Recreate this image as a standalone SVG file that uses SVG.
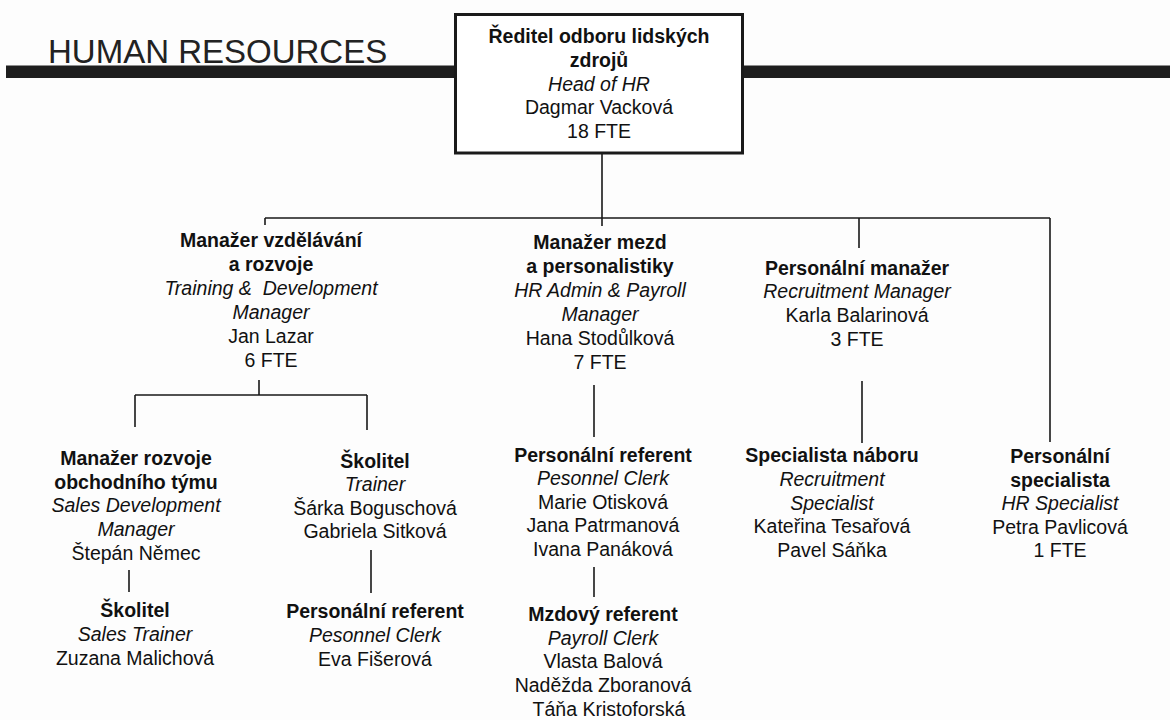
<svg xmlns="http://www.w3.org/2000/svg" width="1170" height="720" viewBox="0 0 1170 720">
<style>
text{font-family:"Liberation Sans",Arial,sans-serif;font-size:19.5px;fill:#111;text-anchor:middle}
.b{font-weight:bold}
.i{font-style:italic}
.title{font-size:33px;text-anchor:start;fill:#222}
.ln{stroke:#1a1a1a;stroke-width:1.6;fill:none}
</style>
<rect width="1170" height="720" fill="#fdfdfd"/>
<g id="banner">
<rect x="6" y="65.5" width="1164" height="12.5" fill="#1e1e1e"/>
<text class="title" x="48" y="63">HUMAN RESOURCES</text>
</g>
<g id="connectors">
<path class="ln" d="M602 154V226M265 218H1050M265 218V225M859 218V248M1050 218V442"/>
<path class="ln" d="M259 380V395M135 395H367M135 395V427M367 395V430"/>
<path class="ln" d="M129 570V592M371 550V593M594 385V437M594 567V597M862 381V443"/>
</g>
<g id="head">
<rect x="455.5" y="14.5" width="287" height="138.5" fill="#fff" stroke="#1a1a1a" stroke-width="3"/>
<text class="b" x="599" y="43">Ředitel odboru lidských</text>
<text class="b" x="599" y="67">zdrojů</text>
<text class="i" x="599" y="91">Head of HR</text>
<text x="599" y="114">Dagmar Vacková</text>
<text x="599" y="138">18 FTE</text>
</g>
<g id="training-manager">
<text class="b" x="271" y="247">Manažer vzdělávání</text>
<text class="b" x="271" y="271">a rozvoje</text>
<text class="i" x="271" y="295" xml:space="preserve">Training &amp;  Development</text>
<text class="i" x="271" y="319">Manager</text>
<text x="271" y="343">Jan Lazar</text>
<text x="271" y="367">6 FTE</text>
</g>
<g id="payroll-manager">
<text class="b" x="600" y="249">Manažer mezd</text>
<text class="b" x="600" y="273">a personalistiky</text>
<text class="i" x="600" y="297">HR Admin &amp; Payroll</text>
<text class="i" x="600" y="321">Manager</text>
<text x="600" y="345">Hana Stodůlková</text>
<text x="600" y="369">7 FTE</text>
</g>
<g id="recruitment-manager">
<text class="b" x="857" y="275">Personální manažer</text>
<text class="i" x="857" y="298">Recruitment Manager</text>
<text x="857" y="322">Karla Balarinová</text>
<text x="857" y="346">3 FTE</text>
</g>
<g id="hr-specialist">
<text class="b" x="1060" y="463">Personální</text>
<text class="b" x="1060" y="487">specialista</text>
<text class="i" x="1060" y="510">HR Specialist</text>
<text x="1060" y="534">Petra Pavlicová</text>
<text x="1060" y="557">1 FTE</text>
</g>
<g id="sales-dev-manager">
<text class="b" x="136" y="465">Manažer rozvoje</text>
<text class="b" x="136" y="489">obchodního týmu</text>
<text class="i" x="136" y="512">Sales Development</text>
<text class="i" x="136" y="536">Manager</text>
<text x="136" y="560">Štepán Němec</text>
</g>
<g id="sales-trainer">
<text class="b" x="135" y="617">Školitel</text>
<text class="i" x="135" y="641">Sales Trainer</text>
<text x="135" y="665">Zuzana Malichová</text>
</g>
<g id="trainer">
<text class="b" x="375" y="468">Školitel</text>
<text class="i" x="375" y="491">Trainer</text>
<text x="375" y="515">Šárka Boguschová</text>
<text x="375" y="538">Gabriela Sitková</text>
</g>
<g id="personnel-clerk-1">
<text class="b" x="375" y="618">Personální referent</text>
<text class="i" x="375" y="642">Pesonnel Clerk</text>
<text x="375" y="666">Eva Fišerová</text>
</g>
<g id="personnel-clerk-2">
<text class="b" x="603" y="462">Personální referent</text>
<text class="i" x="603" y="485">Pesonnel Clerk</text>
<text x="603" y="509">Marie Otisková</text>
<text x="603" y="532">Jana Patrmanová</text>
<text x="603" y="556">Ivana Panáková</text>
</g>
<g id="payroll-clerk">
<text class="b" x="603" y="621">Mzdový referent</text>
<text class="i" x="603" y="645">Payroll Clerk</text>
<text x="603" y="668">Vlasta Balová</text>
<text x="603" y="692">Naděžda Zboranová</text>
<text x="609" y="716">Táňa Kristoforská</text>
</g>
<g id="recruitment-specialist">
<text class="b" x="832" y="462">Specialista náboru</text>
<text class="i" x="832" y="486">Recruitment</text>
<text class="i" x="832" y="510">Specialist</text>
<text x="832" y="533">Kateřina Tesařová</text>
<text x="832" y="557">Pavel Sáňka</text>
</g>
</svg>
